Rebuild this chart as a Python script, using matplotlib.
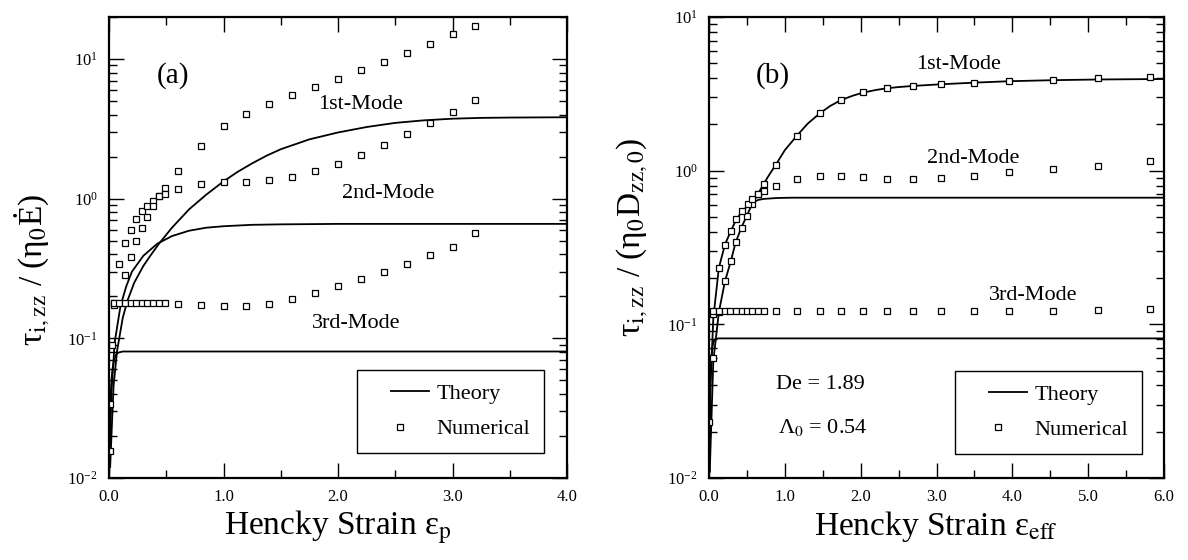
import matplotlib
matplotlib.use("Agg")
import matplotlib.pyplot as plt
from matplotlib.ticker import FormatStrFormatter, MultipleLocator, LogLocator
from matplotlib.lines import Line2D
from matplotlib.legend_handler import HandlerLine2D

plt.rcParams['font.family'] = ['Liberation Serif', 'DejaVu Serif']
plt.rcParams['mathtext.fontset'] = 'stix'

# ---------------- panel (a) ----------------
# theory curves
a_th1_x = [0.01, 0.04, 0.07, 0.12, 0.16, 0.22, 0.30, 0.37, 0.44, 0.55, 0.70, 0.85, 1.0, 1.125, 1.25, 1.375, 1.5, 1.75, 2.0, 2.25, 2.5, 2.75, 3.0, 3.25, 3.5, 4.0]
a_th1_y = [0.012, 0.046, 0.081, 0.14, 0.185, 0.25, 0.33, 0.40, 0.48, 0.62, 0.84, 1.07, 1.33, 1.56, 1.79, 2.03, 2.26, 2.66, 2.98, 3.26, 3.49, 3.64, 3.74, 3.79, 3.81, 3.83]
a_th2_x = [0.005, 0.02, 0.05, 0.10, 0.15, 0.20, 0.30, 0.42, 0.55, 0.70, 0.85, 1.0, 1.25, 1.5, 2.0, 4.0]
a_th2_y = [0.012, 0.040, 0.094, 0.17, 0.235, 0.30, 0.39, 0.475, 0.54, 0.59, 0.62, 0.635, 0.65, 0.655, 0.66, 0.66]
a_th3_x = [0.002, 0.006, 0.01, 0.02, 0.03, 0.045, 0.06, 0.08, 0.12, 4.0]
a_th3_y = [0.011, 0.022, 0.031, 0.048, 0.060, 0.070, 0.076, 0.079, 0.0805, 0.0805]

# numerical results
a_n1_x = [0.005, 0.04, 0.09, 0.14, 0.19, 0.24, 0.29, 0.335, 0.385, 0.435, 0.485, 0.6, 0.8, 1.0, 1.2, 1.4, 1.6, 1.8, 2.0, 2.2, 2.4, 2.6, 2.8, 3.0, 3.2]
a_n1_y = [0.034, 0.178, 0.343, 0.485, 0.60, 0.71, 0.81, 0.89, 0.97, 1.04, 1.19, 1.57, 2.38, 3.30, 4.06, 4.77, 5.51, 6.31, 7.21, 8.28, 9.46, 11.0, 12.8, 15.0, 17.3]
a_n2_x = [0.005, 0.04, 0.14, 0.19, 0.24, 0.29, 0.335, 0.385, 0.435, 0.485, 0.6, 0.8, 1.0, 1.2, 1.4, 1.6, 1.8, 2.0, 2.2, 2.4, 2.6, 2.8, 3.0, 3.2]
a_n2_y = [0.0156, 0.172, 0.284, 0.38, 0.50, 0.62, 0.74, 0.89, 1.04, 1.08, 1.17, 1.27, 1.31, 1.31, 1.35, 1.43, 1.57, 1.78, 2.06, 2.42, 2.89, 3.46, 4.16, 5.07]
a_n3_x = [0.024, 0.04, 0.09, 0.14, 0.19, 0.24, 0.29, 0.335, 0.385, 0.435, 0.485, 0.6, 0.8, 1.0, 1.2, 1.4, 1.6, 1.8, 2.0, 2.2, 2.4, 2.6, 2.8, 3.0, 3.2]
a_n3_y = [0.089, 0.178, 0.178, 0.178, 0.178, 0.178, 0.178, 0.178, 0.178, 0.178, 0.178, 0.177, 0.172, 0.17, 0.17, 0.177, 0.192, 0.212, 0.237, 0.267, 0.30, 0.343, 0.394, 0.452, 0.57]

# ---------------- panel (b) ----------------
b_th1_x = [0.01, 0.057, 0.13, 0.21, 0.29, 0.35, 0.43, 0.50, 0.57, 0.65, 0.72, 0.80, 0.88, 1.0, 1.16, 1.3, 1.46, 1.6, 1.74, 1.9, 2.03, 2.2, 2.35, 2.5, 2.69, 3.06, 3.5, 3.96, 4.53, 5.13, 6.0]
b_th1_y = [0.011, 0.058, 0.12, 0.19, 0.26, 0.34, 0.43, 0.51, 0.61, 0.71, 0.82, 0.95, 1.09, 1.36, 1.69, 2.02, 2.36, 2.64, 2.88, 3.08, 3.22, 3.35, 3.44, 3.50, 3.56, 3.65, 3.74, 3.82, 3.88, 3.92, 3.95]
b_th2_x = [0.005, 0.02, 0.057, 0.13, 0.21, 0.29, 0.35, 0.43, 0.51, 0.57, 0.65, 0.72, 0.9, 1.1, 6.0]
b_th2_y = [0.011, 0.040, 0.11, 0.233, 0.33, 0.407, 0.47, 0.54, 0.59, 0.62, 0.645, 0.655, 0.664, 0.667, 0.667]
b_th3_x = [0.002, 0.006, 0.01, 0.02, 0.03, 0.045, 0.06, 0.08, 0.12, 6.0]
b_th3_y = [0.011, 0.022, 0.031, 0.048, 0.060, 0.071, 0.077, 0.080, 0.081, 0.081]

b_n1_x = [0.003, 0.057, 0.13, 0.21, 0.29, 0.35, 0.43, 0.50, 0.57, 0.65, 0.72, 0.88, 1.16, 1.46, 1.74, 2.03, 2.35, 2.69, 3.06, 3.50, 3.96, 4.53, 5.13, 5.81]
b_n1_y = [0.023, 0.0605, 0.12, 0.19, 0.26, 0.342, 0.426, 0.51, 0.61, 0.70, 0.82, 1.09, 1.69, 2.36, 2.88, 3.24, 3.44, 3.56, 3.65, 3.74, 3.84, 3.91, 3.99, 4.10]
b_n2_x = [0.057, 0.13, 0.21, 0.29, 0.35, 0.43, 0.51, 0.57, 0.65, 0.72, 0.88, 1.16, 1.46, 1.74, 2.03, 2.35, 2.69, 3.06, 3.50, 3.96, 4.53, 5.13, 5.81]
b_n2_y = [0.116, 0.233, 0.33, 0.407, 0.485, 0.55, 0.61, 0.656, 0.71, 0.736, 0.80, 0.88, 0.93, 0.93, 0.91, 0.886, 0.886, 0.90, 0.93, 0.975, 1.03, 1.08, 1.15]
b_n3_x = [0.057, 0.13, 0.21, 0.28, 0.35, 0.43, 0.50, 0.57, 0.65, 0.72, 0.88, 1.16, 1.46, 1.74, 2.03, 2.35, 2.69, 3.06, 3.50, 3.96, 4.53, 5.13, 5.81]
b_n3_y = [0.122, 0.122, 0.122, 0.122, 0.122, 0.122, 0.122, 0.122, 0.122, 0.122, 0.122, 0.122, 0.122, 0.122, 0.122, 0.122, 0.122, 0.122, 0.122, 0.122, 0.123, 0.124, 0.125]


class ShiftedHandler(HandlerLine2D):
    # line drawn on part of the handle box, marker placed near its left end
    def __init__(self, line_from=0.0, marker_at=0.5, **kw):
        super().__init__(**kw)
        self.line_from = line_from
        self.marker_at = marker_at

    def get_xdata(self, legend, xdescent, ydescent, width, height, fontsize):
        xdata = [-xdescent + self.line_from * width, -xdescent + width]
        xmark = [-xdescent + self.marker_at * width]
        return xdata, xmark


fig = plt.figure(figsize=(11.88, 5.6), dpi=100)
axa = fig.add_axes([109/1188, 82/560, 458/1188, 461/560])
axb = fig.add_axes([709/1188, 82/560, 455/1188, 461/560])

def style_axis(ax, xmax, ymax):
    ax.set_yscale('log')
    ax.set_xlim(0, xmax)
    ax.set_ylim(0.01, ymax)
    ax.xaxis.set_major_locator(MultipleLocator(1.0))
    ax.xaxis.set_minor_locator(MultipleLocator(0.5))
    ax.xaxis.set_major_formatter(FormatStrFormatter('%.1f'))
    ax.yaxis.set_major_locator(LogLocator(base=10, numticks=10))
    ax.yaxis.set_minor_locator(LogLocator(base=10, subs=range(2, 10), numticks=10))
    ax.tick_params(which='both', direction='in', top=True, right=True, width=1.0)
    ax.tick_params(which='major', length=11, labelsize=12, pad=8)
    ax.tick_params(which='minor', length=6)
    for s in ax.spines.values():
        s.set_linewidth(1.6)

def plot_panel(ax, th, num):
    for x, y in th:
        ax.plot(x, y, color='black', lw=1.3)
    for x, y in num:
        ax.plot(x, y, ls='none', marker='s', ms=4.5, mfc='white', mec='black', mew=0.9)

plot_panel(axa, [(a_th1_x, a_th1_y), (a_th2_x, a_th2_y), (a_th3_x, a_th3_y)],
           [(a_n1_x, a_n1_y), (a_n2_x, a_n2_y), (a_n3_x, a_n3_y)])
plot_panel(axb, [(b_th1_x, b_th1_y), (b_th2_x, b_th2_y), (b_th3_x, b_th3_y)],
           [(b_n1_x, b_n1_y), (b_n2_x, b_n2_y), (b_n3_x, b_n3_y)])

style_axis(axa, 4.0, 20)
style_axis(axb, 6.0, 10)

h_th = Line2D([], [], color='black', lw=1.3)
h_num = Line2D([], [], ls='none', marker='s', ms=4.5, mfc='white', mec='black', mew=0.9)
for ax, anchor in [(axa, (0.95, 0.054)), (axb, (0.952, 0.052))]:
    leg = ax.legend([h_th, h_num], ['Theory', 'Numerical'], loc='lower right', bbox_to_anchor=anchor,
                    fontsize=16, fancybox=False, edgecolor='black', framealpha=1,
                    handlelength=2.6, handletextpad=0.35, borderpad=0.62, labelspacing=0.66,
                    borderaxespad=0, numpoints=1,
                    handler_map={h_th: ShiftedHandler(line_from=0.34),
                                 h_num: ShiftedHandler(marker_at=0.05)})
    leg.get_frame().set_linewidth(1.0)

# annotations panel (a)
axa.text(0.14, 0.874, '(a)', transform=axa.transAxes, fontsize=21, ha='center', va='center')
axa.text(0.55, 0.811, '1st-Mode', transform=axa.transAxes, fontsize=16, ha='center', va='center')
axa.text(0.609, 0.618, '2nd-Mode', transform=axa.transAxes, fontsize=16, ha='center', va='center')
axa.text(0.539, 0.336, '3rd-Mode', transform=axa.transAxes, fontsize=16, ha='center', va='center')

# annotations panel (b)
axb.text(0.141, 0.874, '(b)', transform=axb.transAxes, fontsize=21, ha='center', va='center')
axb.text(0.549, 0.896, '1st-Mode', transform=axb.transAxes, fontsize=16, ha='center', va='center')
axb.text(0.58, 0.692, '2nd-Mode', transform=axb.transAxes, fontsize=16, ha='center', va='center')
axb.text(0.712, 0.395, '3rd-Mode', transform=axb.transAxes, fontsize=16, ha='center', va='center')
axb.text(0.245, 0.202, 'De = 1.89', transform=axb.transAxes, fontsize=16, ha='center', va='center')
axb.text(0.25, 0.11, 'Λ$_0$ = 0.54', transform=axb.transAxes, fontsize=16, ha='center', va='center')

# axis labels
fig.text(32/1188, 1 - 270/560, 'τ$_{\\mathrm{i,zz}}$ / (η$_0$Ė)',
         rotation=90, fontsize=24, ha='center', va='center')
fig.text(632/1188, 1 - 237/560, 'τ$_{\\mathrm{i,zz}}$ / (η$_0$D$_{\\mathrm{zz,0}}$)',
         rotation=90, fontsize=24, ha='center', va='center')
fig.text(338/1188, 1 - 527/560, 'Hencky Strain ε$_{\\mathrm{p}}$', fontsize=24, ha='center', va='center')
fig.text(936/1188, 1 - 527/560, 'Hencky Strain ε$_{\\mathrm{eff}}$', fontsize=24, ha='center', va='center')

fig.savefig('out.png', dpi=100)
